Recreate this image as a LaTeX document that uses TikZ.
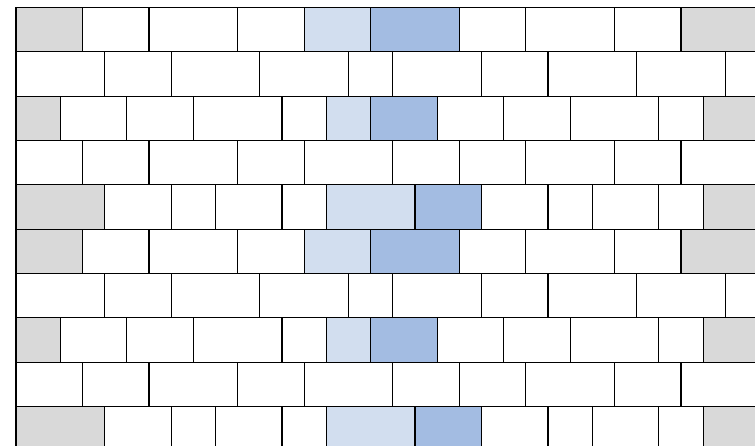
\documentclass[tikz,border=0pt]{standalone}
\definecolor{endgray}{RGB}{217,217,217}
\definecolor{paleblue}{RGB}{210,222,239}
\definecolor{midblue}{RGB}{163,188,226}
\begin{document}
\begin{tikzpicture}[x=0.5cm, y=0.5cm,
  brick/.style={draw=black, line width=0.7pt}]
  \useasboundingbox (-0.722,0.338) rectangle (33.338,-19.78);
  \clip (-0.722,0.338) rectangle (33.338,-19.78);
  \foreach \k in {0,10} {
    % course A
    \foreach \a/\b/\c in {0/3/endgray, 3/6/white, 6/10/white, 10/13/white, 13/16/paleblue,
        16/20/midblue, 20/23/white, 23/27/white, 27/30/white, 30/34/endgray}
      \draw[brick, fill=\c] (\a,-\k) rectangle (\b,-\k-2);
    % course B
    \foreach \a/\b in {0/4, 4/7, 7/11, 11/15, 15/17, 17/21, 21/24, 24/28, 28/32, 32/36}
      \draw[brick, fill=white] (\a,-\k-2) rectangle (\b,-\k-4);
    % course C
    \foreach \a/\b/\c in {0/2/endgray, 2/5/white, 5/8/white, 8/12/white, 12/14/white,
        14/16/paleblue, 16/19/midblue, 19/22/white, 22/25/white, 25/29/white, 29/31/white,
        31/34/endgray}
      \draw[brick, fill=\c] (\a,-\k-4) rectangle (\b,-\k-6);
    % course D
    \foreach \a/\b in {0/3, 3/6, 6/10, 10/13, 13/17, 17/20, 20/23, 23/27, 27/30, 30/34}
      \draw[brick, fill=white] (\a,-\k-6) rectangle (\b,-\k-8);
    % course E
    \foreach \a/\b/\c in {0/4/endgray, 4/7/white, 7/9/white, 9/12/white, 12/14/white,
        14/18/paleblue, 18/21/midblue, 21/24/white, 24/26/white, 26/29/white, 29/31/white,
        31/34/endgray}
      \draw[brick, fill=\c] (\a,-\k-8) rectangle (\b,-\k-10);
  }
\end{tikzpicture}
\end{document}
